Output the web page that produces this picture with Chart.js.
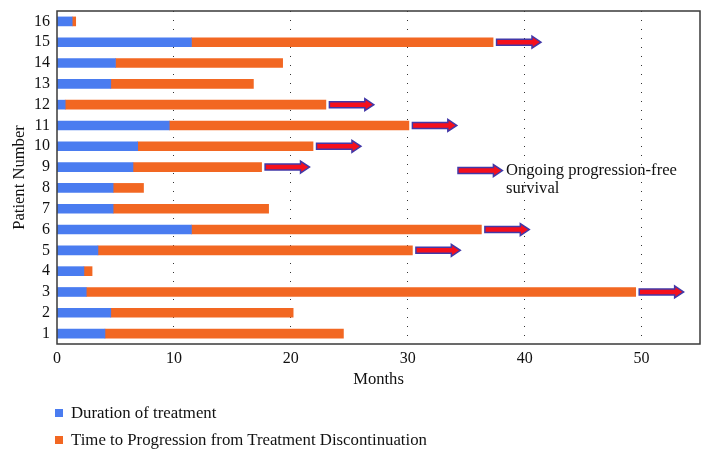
<!DOCTYPE html>
<html>
<head>
<meta charset="utf-8">
<script src="https://cdn.jsdelivr.net/npm/chart.js@4.4.1/dist/chart.umd.min.js"></script>
<style>
  body { margin: 0; background: #fff; }
  .wrap { position: relative; width: 711px; height: 462px; }
  .legend { position: absolute; left: 55px; top: 403px; font-family: "Liberation Serif", serif; font-size: 16.8px; color: #111; }
  .legend div { height: 27px; line-height: 19px; }
  .legend span { display: inline-block; width: 8px; height: 8px; margin-right: 8px; vertical-align: 1px; }
</style>
</head>
<body>
<div class="wrap">
  <canvas id="myChart" width="711" height="462"></canvas>
  <div class="legend">
    <div><span style="background:#4a7cf0"></span>Duration of treatment</div>
    <div><span style="background:#f26722"></span>Time to Progression from Treatment Discontinuation</div>
  </div>
</div>
<script>
const patients = ["16", "15", "14", "13", "12", "11", "10", "9", "8", "7", "6", "5", "4", "3", "2", "1"];
const treatment = [1.3, 11.5, 5.0, 4.6, 0.7, 9.6, 6.9, 6.5, 4.8, 4.8, 11.5, 3.5, 2.3, 2.5, 4.6, 4.1];
const progression = [0.3, 25.8, 14.3, 12.2, 22.3, 20.5, 15.0, 11.0, 2.6, 13.3, 24.8, 26.9, 0.7, 47.0, 15.6, 20.4];
const ongoing = [false, true, false, false, true, true, true, true, false, false, true, true, false, true, false, false];
const xTicks = [0, 10, 20, 30, 40, 50];

const fontFam = "'Liberation Serif', serif";

function drawArrow(ctx, x0, x1, y) {
  const shaft = 3, head = 6, headLen = 9;
  ctx.beginPath();
  ctx.moveTo(x0, y - shaft);
  ctx.lineTo(x1 - headLen, y - shaft);
  ctx.lineTo(x1 - headLen, y - head);
  ctx.lineTo(x1, y);
  ctx.lineTo(x1 - headLen, y + head);
  ctx.lineTo(x1 - headLen, y + shaft);
  ctx.lineTo(x0, y + shaft);
  ctx.closePath();
  ctx.fillStyle = "#f5101c";
  ctx.fill();
  ctx.lineWidth = 1.5;
  ctx.strokeStyle = "#4238a8";
  ctx.stroke();
}

const extras = {
  id: "extras",
  afterDatasetsDraw(chart) {
    const { ctx, chartArea: a, scales: { x, y } } = chart;
    ctx.save();
    // plot frame
    ctx.strokeStyle = "#3a3a3a";
    ctx.lineWidth = 1.5;
    ctx.strokeRect(a.left, a.top, a.right - a.left, a.bottom - a.top);
    // ongoing arrows
    for (let i = 0; i < patients.length; i++) {
      if (!ongoing[i]) continue;
      const end = treatment[i] + progression[i];
      drawArrow(ctx, x.getPixelForValue(end + 0.3), x.getPixelForValue(end + 4.1), y.getPixelForValue(i));
    }
    // key
    const ky = y.getPixelForValue(7) + 3.5;
    drawArrow(ctx, x.getPixelForValue(34.3), x.getPixelForValue(38.1), ky);
    ctx.fillStyle = "#111";
    ctx.font = "16.6px " + fontFam;
    ctx.textBaseline = "middle";
    ctx.fillText("Ongoing progression-free", x.getPixelForValue(38.4), ky);
    ctx.fillText("survival", x.getPixelForValue(38.4), ky + 18);
    ctx.restore();
  },
};

new Chart(document.getElementById("myChart"), {
  type: "bar",
  data: {
    labels: patients,
    datasets: [
      { label: "Duration of treatment", data: treatment, backgroundColor: "#4a7cf0", barThickness: 9 },
      { label: "Time to Progression from Treatment Discontinuation", data: progression, backgroundColor: "#f26722", barThickness: 9 },
    ],
  },
  options: {
    indexAxis: "y",
    responsive: false,
    animation: false,
    layout: { padding: { top: 11, right: 11, left: 0, bottom: 68 } },
    plugins: { legend: { display: false }, tooltip: { enabled: false } },
    scales: {
      x: {
        stacked: true,
        min: 0,
        max: 55,
        afterBuildTicks: (s) => { s.ticks = xTicks.map((v) => ({ value: v })); },
        afterFit: (s) => { s.height = 50; },
        grid: {
          drawTicks: false,
          color: (c) => (c.tick && c.tick.value > 0 && c.tick.value < 55 ? "#333" : "rgba(0,0,0,0)"),
          lineWidth: 1,
        },
        border: { display: false, dash: [1, 8] },
        ticks: { color: "#111", font: { family: fontFam, size: 16 }, padding: 5, maxRotation: 0 },
        title: { display: true, text: "Months", color: "#111", font: { family: fontFam, size: 16.6 }, padding: { top: 1 } },
      },
      y: {
        stacked: true,
        afterFit: (s) => { s.width = 57; s.paddingTop = 0; },
        grid: { display: false, drawTicks: false },
        border: { display: false },
        ticks: { color: "#111", font: { family: fontFam, size: 16 }, padding: 7, autoSkip: false },
        title: { display: true, text: "Patient Number", color: "#111", font: { family: fontFam, size: 16.6 }, padding: { top: 10, bottom: 0 } },
      },
    },
  },
  plugins: [extras],
});
</script>
</body>
</html>
